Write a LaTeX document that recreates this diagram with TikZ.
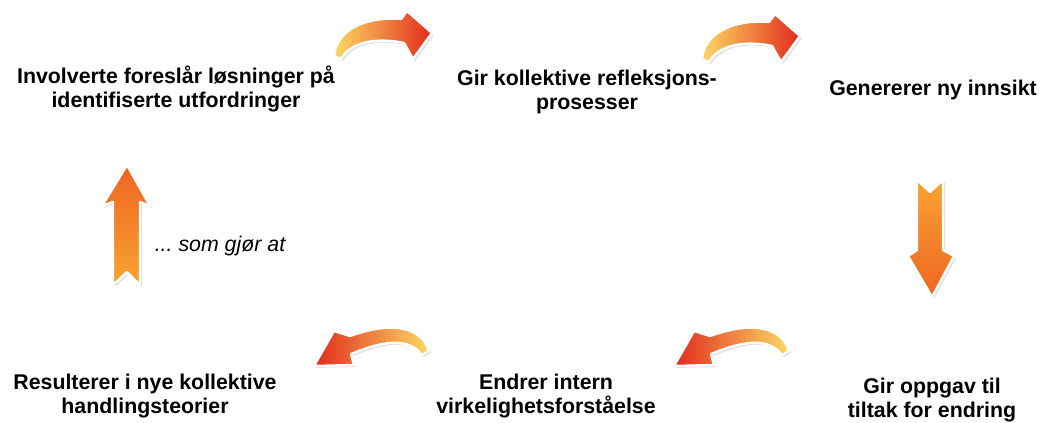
\documentclass[tikz,border=0pt]{standalone}
\usepackage{fontspec}
\setmainfont{Liberation Sans}
\usetikzlibrary{shadows}
\definecolor{arrowpale}{HTML}{FDD865}
\definecolor{arroworange}{HTML}{F8A331}
\definecolor{arrowred}{HTML}{E12B1C}
\definecolor{arrowdark}{HTML}{EE6523}
\tikzstyle{stage}=[align=center, font=\fontsize{16}{17.5}\selectfont\bfseries, inner sep=0pt]
\tikzstyle{note}=[font=\fontsize{16}{17.5}\selectfont\itshape, inner sep=0pt]
\tikzstyle{arrowshape}=[draw=white, line width=1.8pt, line join=round, drop shadow={opacity=0.25, shadow xshift=1.5pt, shadow yshift=-1.5pt}]
\tikzstyle{curveright}=[arrowshape, left color=arrowpale, middle color=arroworange, right color=arrowred]
\tikzstyle{curveleft}=[arrowshape, left color=arrowred, middle color=arroworange, right color=arrowpale]
\tikzstyle{arrowdown}=[arrowshape, top color=arroworange, bottom color=arrowdark]
\tikzstyle{arrowup}=[arrowshape, top color=arrowdark, bottom color=arroworange]
\begin{document}
\begin{tikzpicture}[x=0.75pt, y=-0.75pt]
	\useasboundingbox (0,0) rectangle (1041,423);
	\begin{scope}
		\node (involve) at (176,89) [stage] {Involverte foreslår løsninger på\\identifiserte utfordringer};
		\node (reflect) at (587,92) [stage] {Gir kollektive refleksjons-\\prosesser};
		\node (insight) at (933,90) [stage] {Genererer ny innsikt};
		\node (task) at (932,400) [stage] {Gir oppgav til\\tiltak for endring};
		\node (reality) at (546,396) [stage] {Endrer intern\\virkelighetsforståelse};
		\node (theory) at (145,396) [stage] {Resulterer i nye kollektive\\handlingsteorier};
		\node (note) at (220,246) [note] {...\ som gjør at};
	\end{scope}
	% curved arrows along the top
	\begin{scope}
		\path[curveright] (334,56) .. controls (336,32) and (362,16) .. (401,19) -- (407,11) -- (432,33) -- (413,59) -- (404,43) .. controls (380,38) and (352,40) .. (341,59) -- cycle;
	\end{scope}
	\begin{scope}[shift={(368,3)}]
		\path[curveright] (334,56) .. controls (336,32) and (362,16) .. (401,19) -- (407,11) -- (432,33) -- (413,59) -- (404,43) .. controls (380,38) and (352,40) .. (341,59) -- cycle;
	\end{scope}
	% curved arrows along the bottom
	\begin{scope}
		\path[curveleft] (429,351) .. controls (422,328) and (395,320) .. (350,336) -- (334,331) -- (314,366) -- (354,365) -- (351,354) .. controls (380,342) and (408,336) .. (422,355) -- cycle;
	\end{scope}
	\begin{scope}[shift={(360,0)}]
		\path[curveleft] (429,351) .. controls (422,328) and (395,320) .. (350,336) -- (334,331) -- (314,366) -- (354,365) -- (351,354) .. controls (380,342) and (408,336) .. (422,355) -- cycle;
	\end{scope}
	% straight arrows
	\path[arrowdown] (917,180) -- (930,192) -- (943,180) -- (943,250) -- (954,256) -- (932,297) -- (908,256) -- (917,250) -- cycle;
	\path[arrowup] (113,285) -- (127,272) -- (140,285) -- (140,202) -- (150,206) -- (127,165) -- (102,206) -- (113,202) -- cycle;
\end{tikzpicture}
\end{document}
